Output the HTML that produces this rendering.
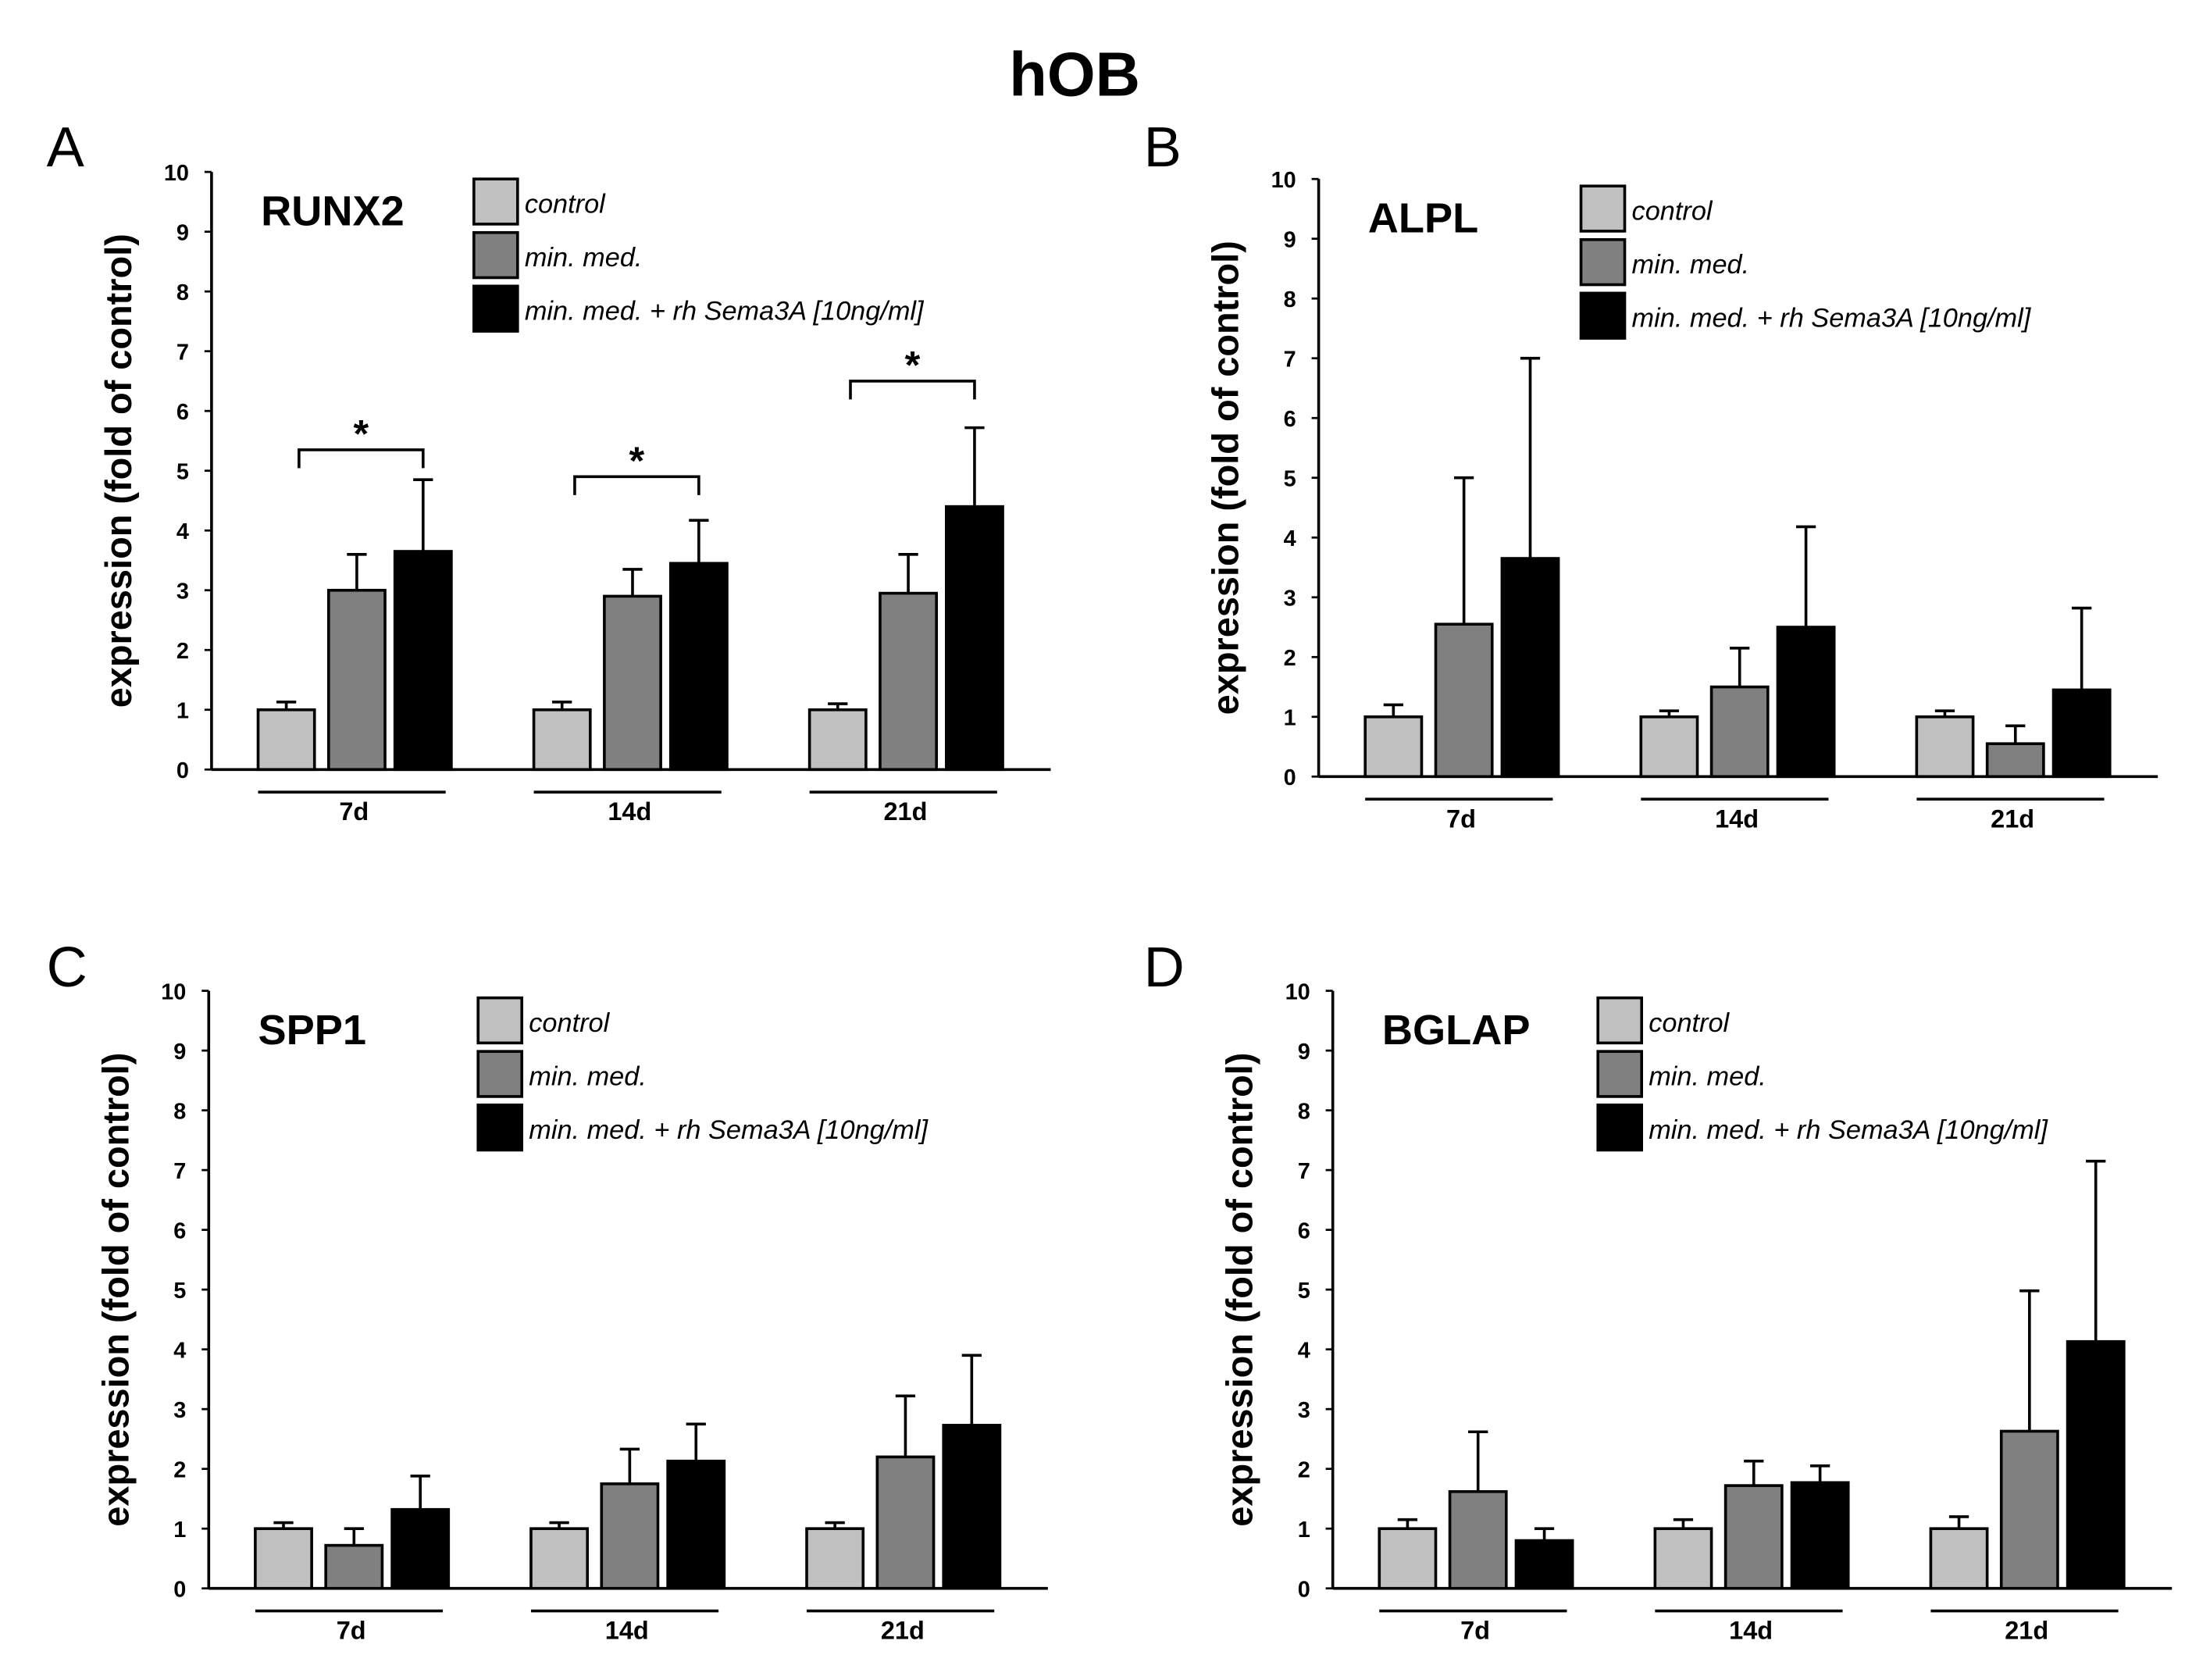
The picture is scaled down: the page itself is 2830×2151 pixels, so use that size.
<!DOCTYPE html>
<html><head><meta charset="utf-8"><style>
html,body{margin:0;padding:0;background:#fff;}
svg{display:block;font-family:"Liberation Sans",Arial,sans-serif;}
</style></head><body>
<svg id="fig" width="2830" height="2151" viewBox="0 0 1567 1192" preserveAspectRatio="none" xmlns="http://www.w3.org/2000/svg">
<text x="762" y="68" font-size="44" font-weight="bold" text-anchor="middle">hOB</text>
</svg>
<script>
const groups = ["7d","14d","21d"];
const seriesNames = ["control","min. med.","min. med. + rh Sema3A [10ng/ml]"];
const yTicks = [0,1,2,3,4,5,6,7,8,9,10];
const runx2Control = [1,1,1], runx2ControlErr = [1.13,1.13,1.1];
const runx2MinMed = [3.0,2.9,2.95], runx2MinMedErr = [3.6,3.35,3.6];
const runx2Sema = [3.65,3.45,4.4], runx2SemaErr = [4.85,4.17,5.72];
const runx2Sig = [5.35,4.9,6.5];
const alplControl = [1,1,1], alplControlErr = [1.2,1.1,1.1];
const alplMinMed = [2.55,1.5,0.55], alplMinMedErr = [5.0,2.15,0.85];
const alplSema = [3.65,2.5,1.45], alplSemaErr = [7.0,4.18,2.82];
const spp1Control = [1,1,1], spp1ControlErr = [1.1,1.1,1.1];
const spp1MinMed = [0.72,1.75,2.2], spp1MinMedErr = [1.0,2.33,3.22];
const spp1Sema = [1.32,2.13,2.73], spp1SemaErr = [1.88,2.75,3.9];
const bglapControl = [1,1,1], bglapControlErr = [1.15,1.15,1.2];
const bglapMinMed = [1.62,1.72,2.63], bglapMinMedErr = [2.62,2.13,4.98];
const bglapSema = [0.8,1.77,4.13], bglapSemaErr = [1.0,2.05,7.15];

const NS="http://www.w3.org/2000/svg";
const svg=document.getElementById('fig');
function mk(tag,attrs,parent,text){const e=document.createElementNS(NS,tag);for(const k in attrs)e.setAttribute(k,attrs[k]);if(text!==undefined)e.textContent=text;(parent||svg).appendChild(e);return e;}
const colors=["#c0c0c0","#808080","#000000"];

function panel(cfg){
  const g=mk('g',{});
  
  
  const ax=cfg.ax, y0=cfg.y0, y10=cfg.y0-424;
  const yS=v=>y0-(v/10)*(y0-y10);
  const groupStart=i=>ax+33+i*195.5;
  const barX=(i,s)=>groupStart(i)+[0,50,97][s];
  const bw=40;
  const L=mk('text',{x:cfg.lx,y:cfg.ly,'font-size':40},g,cfg.letter);
  
  const ya=mk('line',{x1:ax,y1:y10,x2:ax,y2:y0,stroke:'#000','stroke-width':2},g);
  
  const xa=mk('line',{x1:ax,y1:y0,x2:ax+595,y2:y0,stroke:'#000','stroke-width':2},g);
  
  yTicks.forEach(t=>{
    mk('line',{x1:ax-5,y1:yS(t),x2:ax,y2:yS(t),stroke:'#000','stroke-width':1.5},g);
    const tl=mk('text',{x:ax-16,y:yS(t)+6,'font-size':16,'font-weight':'bold','text-anchor':'end'},g,String(t));
    
  });
  const yt=mk('text',{x:0,y:0,'font-size':26,'font-weight':'bold','text-anchor':'middle',transform:`translate(${ax-57},${(y0+y10)/2}) rotate(-90)`},g,'expression (fold of control)');
  
  const gt=mk('text',{x:ax+35,y:y10+38,'font-size':30,'font-weight':'bold'},g,cfg.gene);
  
  seriesNames.forEach((n,s)=>{
    const ly=y10+5+s*38;
    const r=mk('rect',{x:ax+cfg.legDx,y:ly,width:31,height:32,fill:colors[s],stroke:'#000','stroke-width':2},g);
    
    const t=mk('text',{x:ax+cfg.legDx+36,y:ly+24,'font-size':19,'font-style':'italic'},g,n);
    
  });
  const vals=[cfg.c,cfg.m,cfg.s], errs=[cfg.ce,cfg.me,cfg.se];
  groups.forEach((gn,i)=>{
    for(let s=0;s<3;s++){
      const x=barX(i,s), cx=x+bw/2;
      const el=mk('line',{x1:cx,y1:yS(vals[s][i]),x2:cx,y2:yS(errs[s][i]),stroke:'#000','stroke-width':2},g);
      
      mk('line',{x1:cx-7,y1:yS(errs[s][i]),x2:cx+7,y2:yS(errs[s][i]),stroke:'#000','stroke-width':2},g);
      const b=mk('rect',{x:x,y:yS(vals[s][i]),width:bw,height:y0-yS(vals[s][i]),fill:colors[s],stroke:'#000','stroke-width':2},g);
      
    }
    const ul=mk('line',{x1:groupStart(i),y1:y0+16,x2:groupStart(i)+133,y2:y0+16,stroke:'#000','stroke-width':2},g);
    
    const gl=mk('text',{x:groupStart(i)+68,y:y0+36,'font-size':18,'font-weight':'bold','text-anchor':'middle'},g,gn);
    
    if(cfg.sig){
      const by=yS(cfg.sig[i]), x1=barX(i,0)+29, x2=barX(i,2)+20;
      const br=mk('path',{d:`M${x1},${by+13}V${by}H${x2}V${by+13}`,fill:'none',stroke:'#000','stroke-width':2},g);
      
      const st=mk('text',{x:(x1+x2)/2,y:by-2,'font-size':28,'font-weight':'bold','text-anchor':'middle'},g,'*');
      
    }
  });
}
panel({id:'a',letter:'A',lx:33,ly:118,ax:150,y0:546,gene:'RUNX2',legDx:186,c:runx2Control,ce:runx2ControlErr,m:runx2MinMed,me:runx2MinMedErr,s:runx2Sema,se:runx2SemaErr,sig:runx2Sig});
panel({id:'b',letter:'B',lx:811,ly:118,ax:935,y0:551,gene:'ALPL',legDx:186,c:alplControl,ce:alplControlErr,m:alplMinMed,me:alplMinMedErr,s:alplSema,se:alplSemaErr});
panel({id:'c',letter:'C',lx:33,ly:700,ax:148,y0:1127,gene:'SPP1',legDx:191,c:spp1Control,ce:spp1ControlErr,m:spp1MinMed,me:spp1MinMedErr,s:spp1Sema,se:spp1SemaErr});
panel({id:'d',letter:'D',lx:811,ly:700,ax:945,y0:1127,gene:'BGLAP',legDx:188,c:bglapControl,ce:bglapControlErr,m:bglapMinMed,me:bglapMinMedErr,s:bglapSema,se:bglapSemaErr});
</script>
</body></html>
